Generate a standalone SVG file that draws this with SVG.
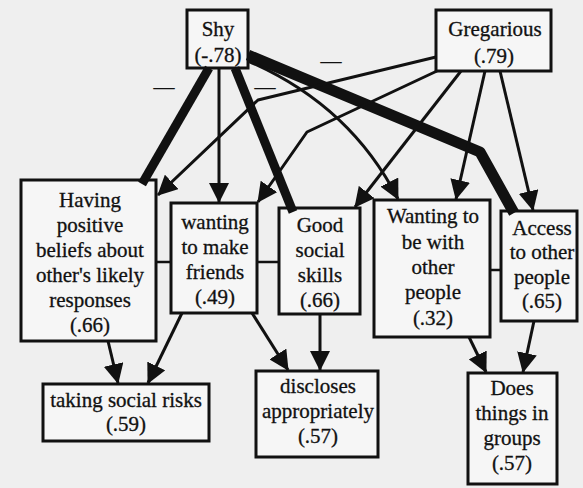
<svg xmlns="http://www.w3.org/2000/svg" width="583" height="488" viewBox="0 0 583 488">
<style>
.box{fill:#f6f6f6;stroke:#111;stroke-width:3}
.t{font-family:'Liberation Serif','DejaVu Serif','Times New Roman',Times,serif;font-size:21px;text-anchor:middle;fill:#111;stroke:#111;stroke-width:0.3}
.thin{fill:none;stroke:#111;stroke-width:3;stroke-linejoin:round}
.thick{fill:none;stroke:#111;stroke-linejoin:round;stroke-linecap:butt}
.link{fill:none;stroke:#111;stroke-width:2.5}
</style>
<defs>
<marker id="ah" viewBox="0 0 20 20" refX="19" refY="10" markerWidth="20" markerHeight="20" markerUnits="userSpaceOnUse" orient="auto">
<path d="M0,0 L20,10 L0,20 z" fill="#111"/>
</marker>
</defs>
<rect width="583" height="488" fill="#efefef"/>

<g id="node-shy"><rect class="box" x="187" y="10" width="61" height="58"/><text class="t" font-family="Liberation Serif, DejaVu Serif, serif" x="218" y="36">Shy</text><text class="t" font-family="Liberation Serif, DejaVu Serif, serif" x="218" y="62">(-.78)</text></g>
<g id="node-gregarious"><rect class="box" x="436" y="10" width="115" height="61"/><text class="t" x="495" y="36">Gregarious</text><text class="t" x="494" y="63">(.79)</text></g>
<g id="node-beliefs"><rect class="box" x="21" y="180" width="135" height="161"/><text class="t" x="90" y="207">Having</text><text class="t" x="90" y="232">positive</text><text class="t" x="90" y="257">beliefs about</text><text class="t" x="90" y="282">other's likely</text><text class="t" x="90" y="307">responses</text><text class="t" x="90" y="332">(.66)</text></g>
<g id="node-friends"><rect class="box" x="171" y="203" width="86" height="110"/><text class="t" x="215" y="229">wanting</text><text class="t" x="215" y="254">to make</text><text class="t" x="215" y="279">friends</text><text class="t" x="215" y="304">(.49)</text></g>
<g id="node-skills"><rect class="box" x="279" y="208" width="81" height="106"/><text class="t" x="320" y="232">Good</text><text class="t" x="320" y="257">social</text><text class="t" x="320" y="282">skills</text><text class="t" x="320" y="307">(.66)</text></g>
<g id="node-withothers"><rect class="box" x="374" y="200" width="116" height="137"/><text class="t" x="433" y="223">Wanting to</text><text class="t" x="433" y="249">be with</text><text class="t" x="433" y="274">other</text><text class="t" x="433" y="299">people</text><text class="t" x="433" y="325">(.32)</text></g>
<g id="node-access"><rect class="box" x="501" y="211" width="76" height="110"/><text class="t" x="542" y="235">Access</text><text class="t" x="542" y="259">to other</text><text class="t" x="542" y="284">people</text><text class="t" x="542" y="308">(.65)</text></g>
<g id="node-risks"><rect class="box" x="43" y="384" width="166" height="57"/><text class="t" x="126" y="407">taking social risks</text><text class="t" x="126" y="431">(.59)</text></g>
<g id="node-discloses"><rect class="box" x="256" y="371" width="122" height="86"/><text class="t" x="318" y="393">discloses</text><text class="t" x="318" y="418">appropriately</text><text class="t" x="318" y="443">(.57)</text></g>
<g id="node-groups"><rect class="box" x="468" y="373" width="89" height="111"/><text class="t" x="512" y="395">Does</text><text class="t" x="512" y="420">things in</text><text class="t" x="512" y="445">groups</text><text class="t" x="512" y="470">(.57)</text></g>

<g id="connectors">
<path class="thick" stroke-width="9" d="M209,68 L142,184"/>
<path class="thin" d="M219,69 V202" marker-end="url(#ah)"/>
<path class="thick" stroke-width="9" d="M235,68 L293,212"/>
<path class="thick" stroke-width="11" d="M248,55 L480,152 L514,213"/>
<path class="thin" d="M248,61 Q350,105 398,199" marker-end="url(#ah)"/>
<path class="thin" d="M436,57 L258,100 L158,195" marker-end="url(#ah)"/>
<path class="thin" d="M437,71 L307,132 L258,202" marker-end="url(#ah)"/>
<path class="thin" d="M461,71 L355,207" marker-end="url(#ah)"/>
<path class="thin" d="M485,71 L456,199" marker-end="url(#ah)"/>
<path class="thin" d="M500,71 L533,210" marker-end="url(#ah)"/>
<path class="thin" d="M108,341 L118,383" marker-end="url(#ah)"/>
<path class="thin" d="M182,313 L148,383" marker-end="url(#ah)"/>
<path class="thin" d="M252,313 L288,370" marker-end="url(#ah)"/>
<path class="thin" d="M320,314 V370" marker-end="url(#ah)"/>
<path class="thin" d="M469,337 L486,372" marker-end="url(#ah)"/>
<path class="thin" d="M534,321 L523,372" marker-end="url(#ah)"/>
<path class="link" d="M156,262 H171 M257,262 H279 M490,270 H501"/>
</g>
<g id="signs">
<text class="t" x="164" y="94">—</text>
<text class="t" x="265" y="94">—</text>
<text class="t" x="331" y="68">—</text>
</g>
</svg>
